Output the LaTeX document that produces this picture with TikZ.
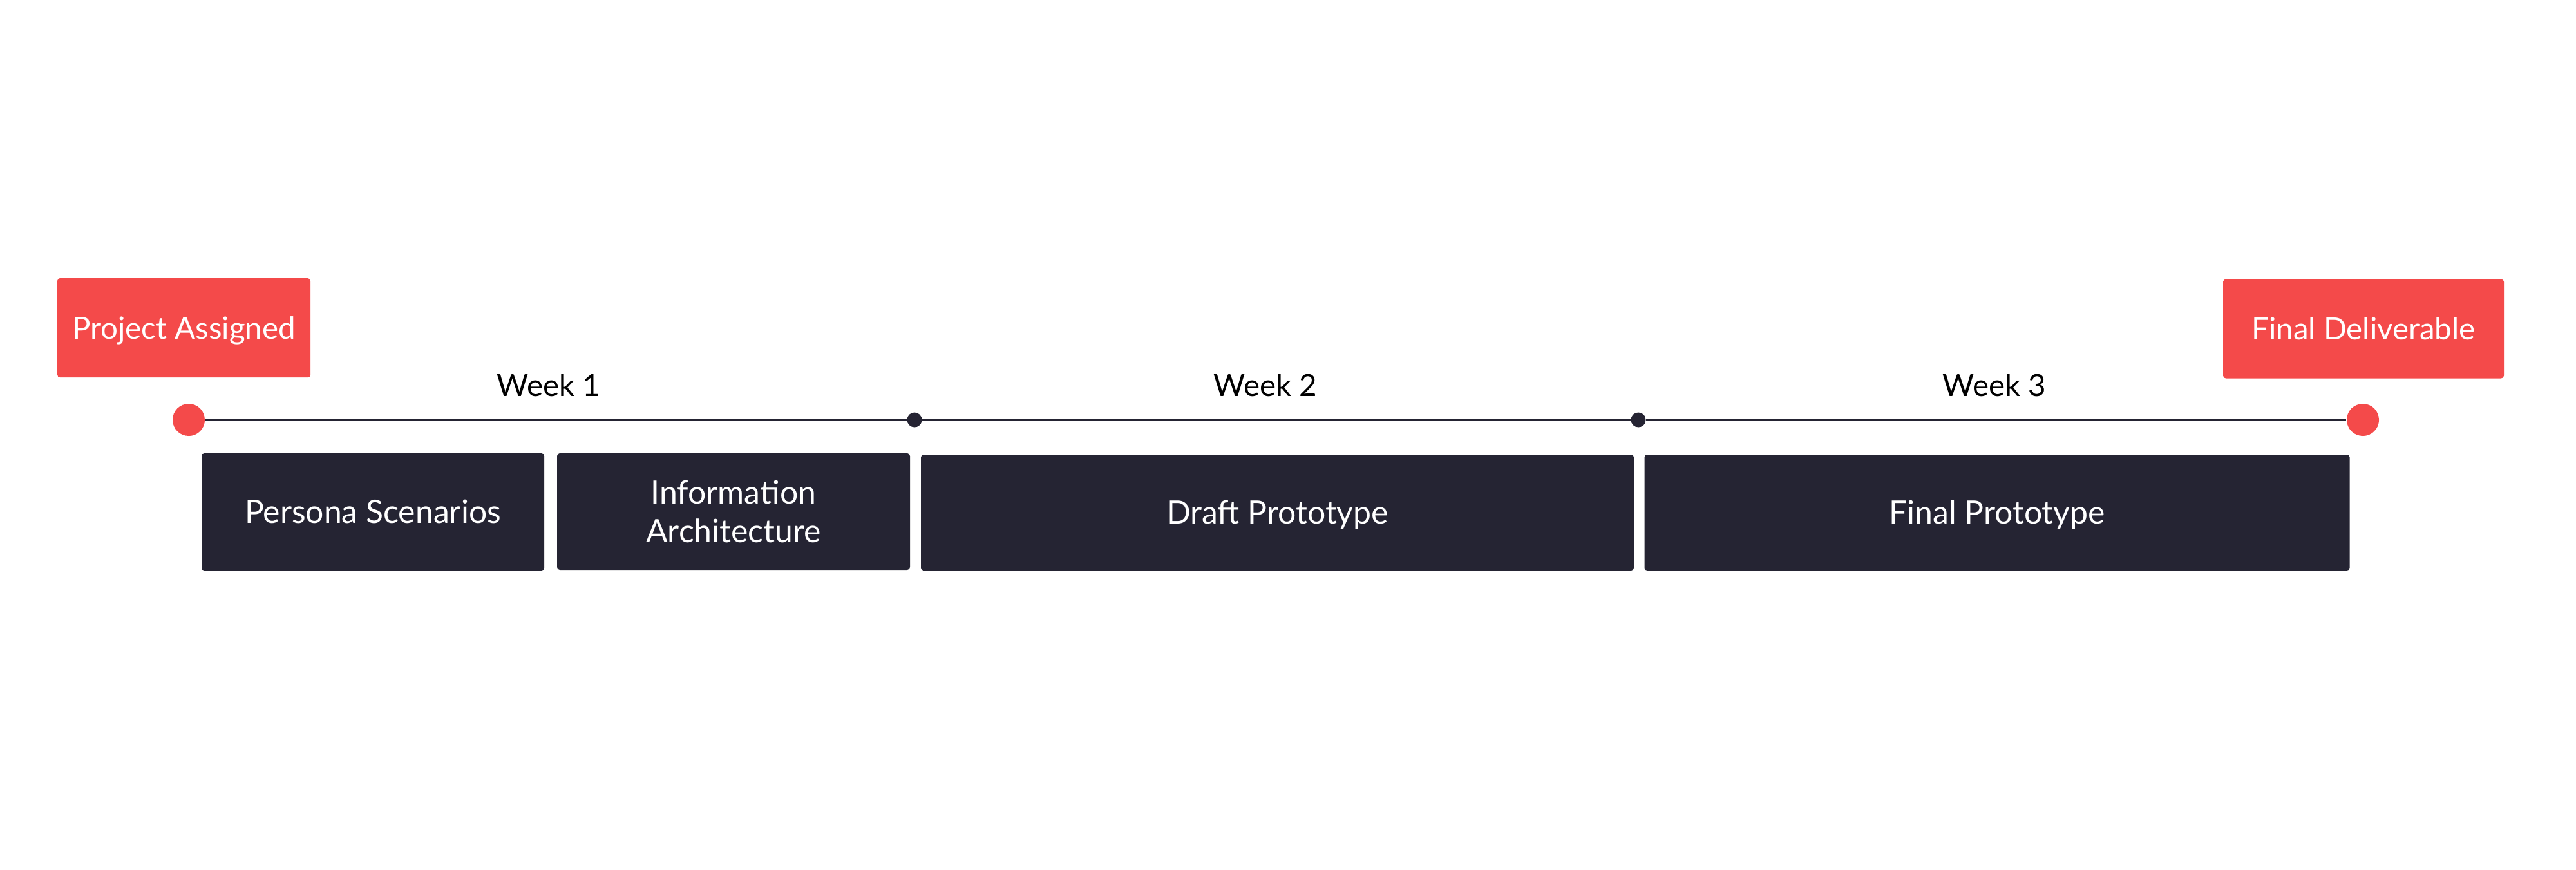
\documentclass[tikz,border=0pt]{standalone}
\usepackage{fontspec}
\setmainfont{Lato}
\usepackage{xcolor}
\definecolor{primary}{RGB}{244,74,74}
\definecolor{dark}{RGB}{37,36,51}
\usepackage{tikz}
\usetikzlibrary{positioning}

\begin{document}
\begin{tikzpicture}[
        milestone/.style={rectangle, rounded corners=1.2pt, fill=primary, text=white, minimum width=#1, minimum height=1.54cm, inner sep=0pt, text height=9.7pt, text depth=0pt, font=\fontsize{13.5}{17}\selectfont},
        task/.style={rectangle, rounded corners=1.2pt, fill=dark, text=white, minimum width=#1, minimum height=1.8cm, inner sep=0pt, align=center, text height=10.2pt, text depth=0pt, font=\fontsize{14.2}{17}\selectfont},
        bigdot/.style={circle, fill=primary, minimum size=0.5cm, inner sep=0pt},
        smalldot/.style={circle, fill=dark, minimum size=0.23cm, inner sep=0pt},
        week/.style={anchor=base, font=\fontsize{13.5}{17}\selectfont}
    ]
        \useasboundingbox (0, 0) rectangle (40, -13.51);

        \node[milestone=3.93cm] (assigned) at (2.855, -5.09) {Project Assigned};
        \node[milestone=4.36cm] (deliverable) at (36.70, -5.105) {Final Deliverable};

        \node[bigdot] (start) at (2.93, -6.52) {};
        \node[smalldot] (w1) at (14.20, -6.52) {};
        \node[smalldot] (w2) at (25.44, -6.52) {};
        \node[bigdot] (end) at (36.69, -6.52) {};

        \draw[dark, line width=0.9pt] (start) -- (w1) -- (w2) -- (end);

        \node[week] (week1) at (8.52, -6.15) {Week 1};
        \node[week] (week2) at (19.65, -6.15) {Week 2};
        \node[week] (week3) at (30.97, -6.15) {Week 3};

        \node[task=5.32cm, minimum height=1.82cm] (persona) at (5.79, -7.95) {Persona Scenarios};
        \node[task=5.48cm, minimum height=1.81cm, text height={}, text depth={}] (info) at (11.39, -7.945) {Information\\Architecture};
        \node[task=11.07cm] (draft) at (19.835, -7.96) {Draft Prototype};
        \node[task=10.95cm] (final) at (31.01, -7.96) {Final Prototype};
    \end{tikzpicture}
\end{document}
